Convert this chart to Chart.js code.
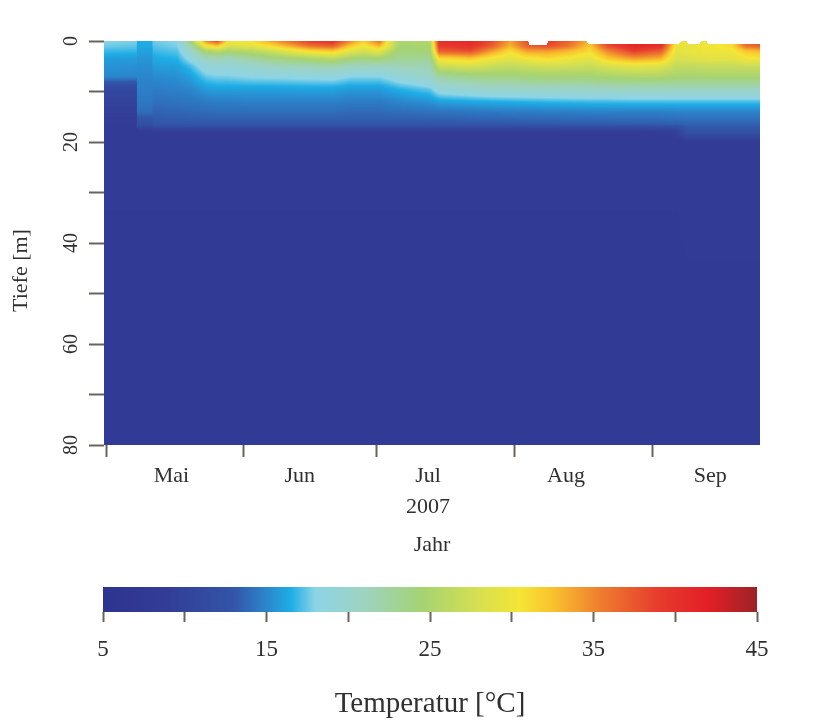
<!DOCTYPE html>
<html>
<head>
<meta charset="utf-8">
<script src="https://cdn.jsdelivr.net/npm/chart.js@4.4.1/dist/chart.umd.min.js"></script>
<style>
  html, body { margin: 0; padding: 0; background: #fff; }
  canvas { display: block; }
</style>
</head>
<body>
<canvas id="profile" width="830" height="560"></canvas>
<canvas id="scalebar" width="830" height="162"></canvas>
<script>
// Messzeitpunkte in Tagen ab 1. Mai 2007
const days = [-0.5, 6.8, 7.0, 10.2, 10.6, 16, 19, 22.5, 25, 27.5, 33, 39, 46, 51, 55, 58, 61.5, 64, 66, 73,
  75, 82, 87, 91, 95, 99.5, 104, 109, 113, 119, 125, 128.5, 131, 136, 141, 144, 147.5];

// Messtiefen [m]
const depths = [0, 1, 2, 3.5, 5, 7, 9.5, 12, 14, 16.5, 18, 20, 80];

// Temperatur [°C] je Tiefe, ein Wert pro Messzeitpunkt
const temp0m = [18, 17.8, 16.5, 16.5, 17.6, 18, 24, 35, 38, 31, 31, 35, 39, 40, 35, 32, 36, 29, 25, 25.5,
  40, 41, 38, 34, 38, 39, 37, 33, 39, 42, 41, 30, 29, 30, 31, 37, 39];
const temp1m = [17.6, 17.4, 16.3, 16.3, 17.3, 17.8, 22, 30, 32, 28, 29, 32, 36, 37, 32, 30, 33, 28, 24.5, 25,
  39, 40, 37, 33, 37, 38, 36, 32, 38, 41, 40, 29.5, 29.5, 30, 31, 36, 37];
const temp2m = [16.9, 16.8, 16, 16, 16.9, 17.3, 20, 25, 26, 25, 26, 28, 31, 32, 29, 28, 29, 26, 24, 24.5,
  37, 38, 34, 31, 34, 34, 33, 31, 35, 39, 37, 29, 29.5, 30, 30, 32, 33];
const temp3m5 = [15.9, 15.8, 15.6, 15.6, 16.3, 16.6, 18.5, 21, 21.5, 21, 22.5, 24, 25, 26, 24.5, 24, 24.5, 23.5, 23, 23,
  31, 32, 30, 29, 30, 31, 30, 29, 32, 34, 33, 28, 28.5, 29, 29, 30, 30.5];
const temp5m = [15.5, 15.4, 15.3, 15.3, 15.8, 16, 17, 19, 19.3, 19.3, 20, 21, 21.5, 22, 21, 21, 21, 21, 21.5, 21.5,
  27, 28, 27, 26.5, 27, 27.5, 27.5, 27, 28, 29, 28.5, 26.5, 26.5, 26.8, 26.8, 27, 27];
const temp7m = [15.1, 15, 15, 15, 15.2, 15.4, 16, 17.5, 17.8, 17.8, 18.2, 18.3, 18.5, 18.7, 18, 18, 18, 18.5, 19.2, 20.5,
  22.5, 23.5, 24, 24, 24.3, 24.5, 24.5, 24.5, 25, 25.3, 25.3, 24.8, 24.8, 24.8, 24.8, 24.8, 24.8];
const temp9m5 = [10.8, 10.8, 14.7, 14.7, 14.6, 14.8, 15, 15.8, 16, 16, 16, 16, 16.1, 16.1, 15.8, 15.8, 15.8, 16.3, 16.6, 17.5,
  19, 19.8, 20.2, 20.3, 20.4, 20.5, 20.6, 20.7, 20.8, 21, 21, 21, 21, 21, 21, 21, 21];
const temp12m = [9.8, 9.8, 14.4, 14.4, 14.1, 14.2, 14.3, 14.6, 14.7, 14.7, 14.8, 14.8, 14.8, 14.8, 14.6, 14.6, 14.6, 14.8, 15, 15.5,
  16, 16.3, 16.5, 16.6, 16.7, 16.8, 16.9, 17, 17, 17.1, 17.1, 17.1, 17.1, 17.1, 17.1, 17.1, 17.1];
const temp14m = [9.3, 9.3, 14, 14, 13.6, 13.7, 13.8, 13.9, 14, 14, 14, 14, 14, 14, 13.9, 13.9, 13.9, 14, 14, 14.2,
  14.3, 14.4, 14.5, 14.6, 14.6, 14.7, 14.7, 14.8, 14.8, 14.8, 14.8, 14.9, 14.9, 14.9, 14.9, 14.9, 14.9];
const temp16m5 = [8.8, 8.8, 12, 12, 13, 13, 13, 13, 13, 13, 13, 13, 13, 13, 13, 13, 13, 13, 13, 13,
  13, 13, 13, 13, 13.1, 13.1, 13.2, 13.2, 13.2, 13.3, 13.3, 13.4, 13.5, 13.5, 13.5, 13.5, 13.5];
const temp18m = [8.5, 8.5, 8.5, 8.5, 8.5, 8.5, 8.5, 8.5, 8.5, 8.5, 8.5, 8.5, 8.5, 8.5, 8.5, 8.5, 8.5, 8.5, 8.5, 8.5,
  8.5, 8.5, 8.5, 8.5, 8.5, 8.5, 8.5, 8.5, 8.5, 8.5, 8.8, 9.5, 12.5, 12.5, 12.5, 12.5, 12.5];
const temp20m = [8.3, 8.3, 8.3, 8.3, 8.3, 8.3, 8.3, 8.3, 8.3, 8.3, 8.3, 8.3, 8.3, 8.3, 8.3, 8.3, 8.3, 8.3, 8.3, 8.3,
  8.3, 8.3, 8.3, 8.3, 8.3, 8.3, 8.3, 8.3, 8.3, 8.3, 8.3, 8.3, 8.5, 8.5, 8.5, 8.5, 8.5];
const temp80m = [7.6, 7.6, 7.6, 7.6, 7.6, 7.6, 7.6, 7.6, 7.6, 7.6, 7.6, 7.6, 7.6, 7.6, 7.6, 7.6, 7.6, 7.6, 7.6, 7.6,
  7.6, 7.6, 7.6, 7.6, 7.6, 7.6, 7.6, 7.6, 7.6, 7.6, 7.6, 7.6, 7.6, 7.6, 7.6, 7.6, 7.6];

// Oberkante der Messung (Wasserspiegel) [m]
const surfaceDays = [-0.5, 95.0, 95.4, 99.2, 99.6, 108.2, 108.6, 129.0, 129.5, 130.7, 131.2, 133.6, 134.1, 135.2, 135.7, 147.5];
const surfaceDepth = [0, 0, 0.8, 0.8, 0, 0, 0.6, 0.6, 0, 0, 0.6, 0.6, 0, 0, 0.6, 0.6];

// Achsen
const monthStarts = [0, 31, 61, 92, 123];
const monthMids = [14.7, 43.6, 72.5, 103.6, 136.1];
const monthNames = ['Mai', 'Jun', ['Jul', '2007'], 'Aug', 'Sep'];
const depthTicks = [0, 10, 20, 30, 40, 50, 60, 70, 80];
const depthLabels = [0, 20, 40, 60, 80];
const tempTicks = [5, 10, 15, 20, 25, 30, 35, 40, 45];
const tempLabels = [5, 15, 25, 35, 45];

// Farbskala
const cmapTemps = [5, 9, 13, 15, 16.5, 18, 21, 24.5, 28, 30.5, 32.5, 35.5, 39, 42, 45];
const cmapColors = ['#2c3390', '#333d97', '#3255a8', '#2b86cc', '#1eaee6', '#8dd4e6', '#9ed3c0', '#a5d373',
  '#d7e050', '#f5e535', '#f9c22d', '#ee7c2f', '#e63b2d', '#e31f26', '#9b2327'];

const tempRows = [temp0m, temp1m, temp2m, temp3m5, temp5m, temp7m, temp9m5, temp12m, temp14m, temp16m5, temp18m, temp20m, temp80m];
tempRows.forEach((row, i) => {
    if (row.length !== days.length) throw new Error('row ' + depths[i] + 'm has ' + row.length + ' values');
});

const tickCol = '#6b625a';
Chart.defaults.font.family = "'Liberation Serif', serif";
Chart.defaults.color = '#303030';

function hexToRgb(h) {
    const n = parseInt(h.slice(1), 16);
    return [n >> 16, (n >> 8) & 255, n & 255];
}
const cmapRgb = cmapColors.map(hexToRgb);

function locate(arr, v) {
    if (v <= arr[0]) return [0, 0];
    if (v >= arr[arr.length - 1]) return [arr.length - 2, 1];
    let i = 0;
    while (arr[i + 1] < v) i++;
    return [i, (v - arr[i]) / (arr[i + 1] - arr[i])];
}

function interp(xs, ys, v) {
    const [i, f] = locate(xs, v);
    return ys[i] + (ys[i + 1] - ys[i]) * f;
}

function colorFor(t) {
    const [i, f] = locate(cmapTemps, t);
    const a = cmapRgb[i], b = cmapRgb[i + 1];
    return [a[0] + (b[0] - a[0]) * f, a[1] + (b[1] - a[1]) * f, a[2] + (b[2] - a[2]) * f];
}

// draws the temperature field pixel by pixel through the chart scales
const heatmap = {
    id: 'heatmap',
    beforeDatasetsDraw(chart) {
        const { ctx, chartArea: area, scales: { x, y } } = chart;
        const left = Math.round(area.left), top = Math.round(area.top);
        const w = Math.round(area.right) - left, h = Math.round(area.bottom) - top;
        const img = ctx.createImageData(w, h);
        const cols = [], surf = [];
        for (let px = 0; px < w; px++) {
            const d = x.getValueForPixel(left + px + 0.5);
            cols.push(locate(days, d));
            surf.push(interp(surfaceDays, surfaceDepth, d));
        }
        for (let py = 0; py < h; py++) {
            const z = y.getValueForPixel(top + py + 0.5);
            const [j, g] = locate(depths, z);
            const r0 = tempRows[j], r1 = tempRows[j + 1];
            for (let px = 0; px < w; px++) {
                if (z < surf[px]) continue;
                const [i, f] = cols[px];
                const a = r0[i] + (r0[i + 1] - r0[i]) * f;
                const b = r1[i] + (r1[i + 1] - r1[i]) * f;
                const c = colorFor(a + (b - a) * g);
                const k = (py * w + px) * 4;
                img.data[k] = c[0];
                img.data[k + 1] = c[1];
                img.data[k + 2] = c[2];
                img.data[k + 3] = 255;
            }
        }
        ctx.putImageData(img, left, top);
    }
};

new Chart(document.getElementById('profile'), {
    type: 'scatter',
    data: { datasets: [{ data: [] }] },
    plugins: [heatmap],
    options: {
        responsive: false,
        animation: false,
        layout: { padding: { top: 41, right: 70, bottom: 0, left: 0 } },
        plugins: { legend: { display: false }, tooltip: { enabled: false } },
        scales: {
            x: {
                type: 'linear',
                min: -0.5,
                max: 147.3,
                afterBuildTicks: s => {
                    s.ticks = monthStarts.concat(monthMids).sort((a, b) => a - b).map(v => ({ value: v }));
                },
                afterFit: s => { s.height = 115; },
                border: { display: false },
                grid: {
                    drawOnChartArea: false,
                    tickLength: 12,
                    tickWidth: 2,
                    tickColor: c => monthStarts.includes(c.tick.value) ? tickCol : 'rgba(0,0,0,0)'
                },
                ticks: {
                    autoSkip: false,
                    maxRotation: 0,
                    padding: 3.5,
                    font: { size: 22, lineHeight: 31 / 22 },
                    callback: v => {
                        const i = monthMids.indexOf(v);
                        return i >= 0 ? monthNames[i] : '';
                    }
                },
                title: { display: true, text: 'Jahr', font: { size: 22 }, padding: { top: 0, bottom: 2 } }
            },
            y: {
                type: 'linear',
                reverse: true,
                min: 0,
                max: 80,
                afterBuildTicks: s => { s.ticks = depthTicks.map(v => ({ value: v })); },
                afterFit: s => { s.width = 104; },
                border: { display: false },
                grid: { drawOnChartArea: false, tickLength: 15, tickWidth: 2, tickColor: tickCol },
                ticks: {
                    autoSkip: false,
                    minRotation: 90,
                    maxRotation: 90,
                    crossAlign: 'center',
                    padding: 7.5,
                    font: { size: 20 },
                    callback: v => depthLabels.includes(v) ? String(v) : ''
                },
                title: { display: true, text: 'Tiefe [m]          ', font: { size: 22 }, padding: { top: 8, bottom: 0 } }
            }
        }
    }
});

function tempGradient(chart) {
    const { ctx, chartArea, scales } = chart;
    if (!chartArea) return cmapColors[0];
    const lo = cmapTemps[0], hi = cmapTemps[cmapTemps.length - 1];
    const g = ctx.createLinearGradient(scales.x.getPixelForValue(lo), 0, scales.x.getPixelForValue(hi), 0);
    cmapTemps.forEach((t, i) => g.addColorStop((t - lo) / (hi - lo), cmapColors[i]));
    return g;
}

new Chart(document.getElementById('scalebar'), {
    type: 'bar',
    data: {
        labels: ['Temperatur'],
        datasets: [{
            data: [[cmapTemps[0], cmapTemps[cmapTemps.length - 1]]],
            backgroundColor: c => tempGradient(c.chart),
            borderWidth: 0,
            barPercentage: 1,
            categoryPercentage: 1
        }]
    },
    options: {
        indexAxis: 'y',
        responsive: false,
        animation: false,
        layout: { padding: { top: 27, right: 73, bottom: 0, left: 103 } },
        plugins: { legend: { display: false }, tooltip: { enabled: false } },
        scales: {
            y: { display: false },
            x: {
                type: 'linear',
                min: 5,
                max: 45,
                afterBuildTicks: s => { s.ticks = tempTicks.map(v => ({ value: v })); },
                afterFit: s => { s.height = 110; },
                border: { display: false },
                grid: { drawOnChartArea: false, tickLength: 10, tickWidth: 2, tickColor: tickCol },
                ticks: {
                    autoSkip: false,
                    maxRotation: 0,
                    padding: 14,
                    font: { size: 23 },
                    callback: v => tempLabels.includes(v) ? String(v) : ''
                },
                title: { display: true, text: 'Temperatur [°C]', font: { size: 29 }, padding: { top: 0, bottom: 0 } }
            }
        }
    }
});
</script>
</body>
</html>
